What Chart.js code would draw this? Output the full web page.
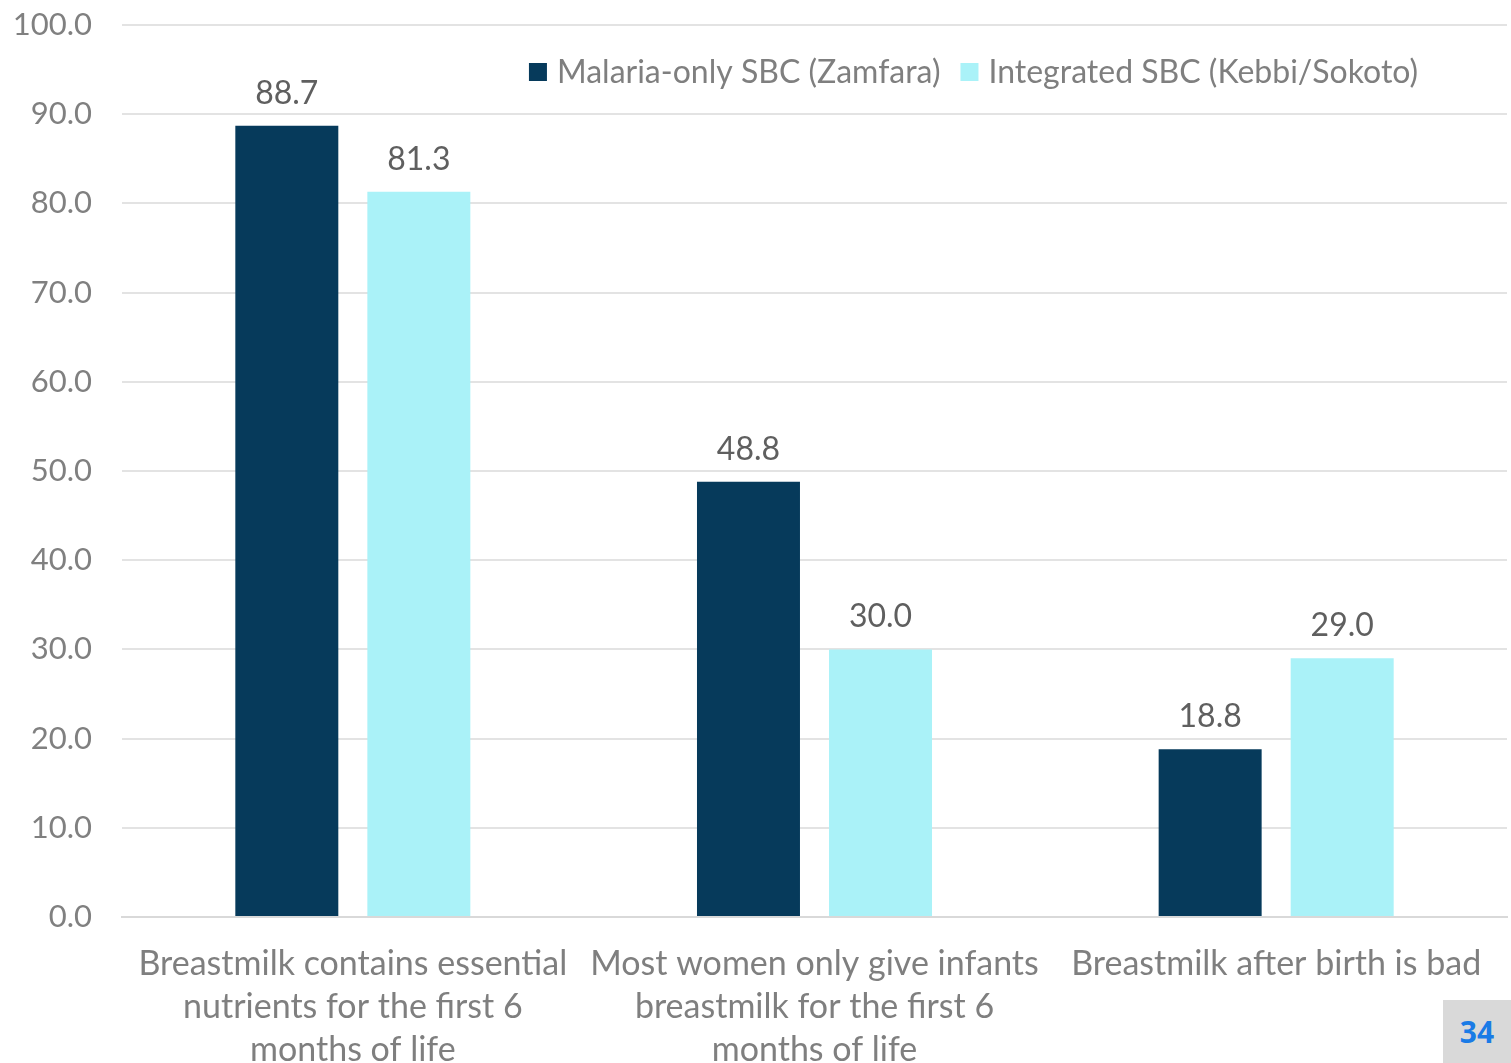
<!DOCTYPE html>
<html>
<head>
<meta charset="utf-8">
<script src="https://cdn.jsdelivr.net/npm/chart.js@4/dist/chart.umd.min.js"></script>
<style>
  html, body { margin: 0; padding: 0; background: #fff; overflow: hidden; }
  #wrap { position: relative; width: 1511px; height: 1063px; overflow: hidden; }
  #page-no {
    position: absolute; left: 1443px; top: 1000px; width: 68px; height: 63px;
    background: #d9d9d9; color: #1a7be6; font: bold 30px "Open Sans", sans-serif;
    display: flex; align-items: center; justify-content: center;
  }
</style>
</head>
<body>
<div id="wrap">
  <canvas id="chart" width="1511" height="1095"></canvas>
  <div id="page-no">34</div>
</div>
<script>
const categories = [
    ["Breastmilk contains essential", "nutrients for the first 6", "months of life"],
    ["Most women only give infants", "breastmilk for the first 6", "months of life"],
    ["Breastmilk after birth is bad"]
];
const seriesNames = ["Malaria-only SBC (Zamfara)", "Integrated SBC (Kebbi/Sokoto)"];
const malariaOnly = [88.7, 48.8, 18.8];
const integrated = [81.3, 30.0, 29.0];
const seriesColors = ["#063a5b", "#aaf2f8"];

const FONT = "Lato, 'Open Sans', sans-serif";

// value labels above each bar
const barValues = {
    id: 'barValues',
    afterDatasetsDraw(chart) {
        const ctx = chart.ctx;
        ctx.save();
        ctx.font = "32px " + FONT;
        ctx.fillStyle = "#5f5f5f";
        ctx.textAlign = "center";
        ctx.textBaseline = "alphabetic";
        chart.data.datasets.forEach((ds, i) => {
            chart.getDatasetMeta(i).data.forEach((bar, j) => {
                ctx.fillText(ds.data[j].toFixed(1), bar.x, bar.y - 22);
            });
        });
        ctx.restore();
    }
};

// single-row legend inside the plot, right aligned near the top
const insideLegend = {
    id: 'insideLegend',
    afterDraw(chart, args, opts) {
        const ctx = chart.ctx;
        const area = chart.chartArea;
        ctx.save();
        ctx.font = opts.fontSize + "px " + FONT;
        ctx.textBaseline = "middle";
        const items = chart.data.datasets.map(ds => ({
            text: ds.label,
            color: ds.backgroundColor,
            w: opts.box + opts.gap + ctx.measureText(ds.label).width
        }));
        const total = items.reduce((s, it) => s + it.w, 0) + opts.spacing * (items.length - 1);
        let x = area.right - opts.right - total;
        const y = area.top + opts.top;
        items.forEach(it => {
            ctx.fillStyle = it.color;
            ctx.fillRect(x, y - opts.box / 2, opts.box, opts.box);
            ctx.fillStyle = "#7f7f7f";
            ctx.fillText(it.text, x + opts.box + opts.gap, y + 1);
            x += it.w + opts.spacing;
        });
        ctx.restore();
    }
};

new Chart(document.getElementById("chart").getContext("2d"), {
    type: 'bar',
    data: {
        labels: categories,
        datasets: [{
            label: seriesNames[0],
            data: malariaOnly,
            backgroundColor: seriesColors[0]
        }, {
            label: seriesNames[1],
            data: integrated,
            backgroundColor: seriesColors[1]
        }]
    },
    options: {
        responsive: false,
        animation: false,
        events: [],
        layout: {
            padding: {left: 15, right: 4, top: 25, bottom: 0}
        },
        datasets: {
            bar: {
                categoryPercentage: 0.572,
                barPercentage: 0.78
            }
        },
        scales: {
            x: {
                grid: {display: false, drawTicks: false},
                border: {color: "#d9d9d9", width: 2},
                afterFit(scale) { scale.height = 178; },
                ticks: {
                    color: "#7f7f7f",
                    font: {family: FONT, size: 34, lineHeight: 1.26},
                    padding: 26,
                    maxRotation: 0,
                    autoSkip: false
                }
            },
            y: {
                min: 0,
                max: 100,
                afterFit(scale) {
                    scale.width = 107;
                    scale.paddingTop = 0;
                    scale.paddingBottom = 0;
                },
                grid: {color: "#e3e3e3", lineWidth: 2, drawTicks: false},
                border: {display: false},
                ticks: {
                    stepSize: 10,
                    color: "#808080",
                    font: {family: FONT, size: 31},
                    padding: 30,
                    callback: v => v.toFixed(1)
                }
            }
        },
        plugins: {
            legend: {display: false},
            tooltip: {enabled: false},
            insideLegend: {fontSize: 32, box: 18, gap: 10, spacing: 20, right: 89, top: 47}
        }
    },
    plugins: [barValues, insideLegend]
});
</script>
</body>
</html>
